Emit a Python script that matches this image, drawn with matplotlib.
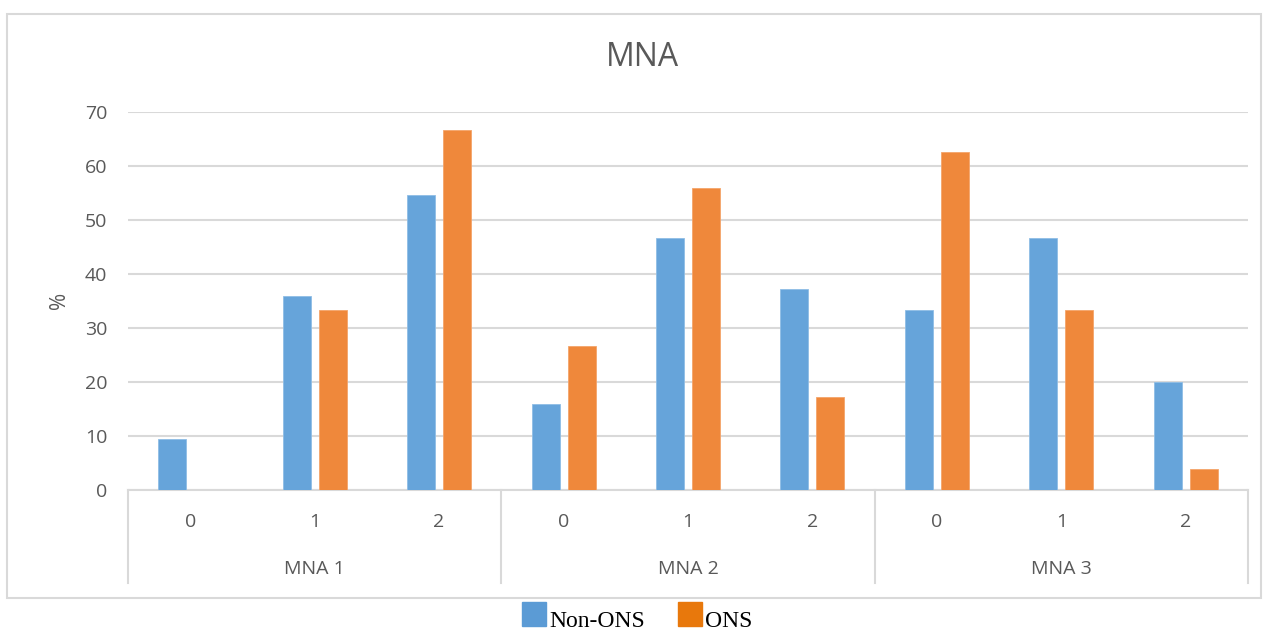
import matplotlib.pyplot as plt
from matplotlib.patches import Rectangle
from matplotlib.lines import Line2D
import numpy as np

groups = ["MNA 1", "MNA 2", "MNA 3"]
levels = ["0", "1", "2"]
non_ons = [9.4, 35.9, 54.6, 15.9, 46.7, 37.2, 33.3, 46.7, 20.0]
ons = [0.0, 33.3, 66.7, 26.7, 55.9, 17.2, 62.6, 33.3, 3.9]
yticks = [0, 10, 20, 30, 40, 50, 60, 70]
series_names = ["Non-ONS", "ONS"]

blue = "#66a4da"
orange = "#ef883b"
grey = "#595959"
grid = "#d9d9d9"
tickfont = "Open Sans"

fig = plt.figure(figsize=(12.68, 6.32), dpi=100)
ax = fig.add_axes([128/1268, 1-490/632, 1120/1268, 378/632])

# outer chart border
fig.patches.append(Rectangle((7/1268, 1-598/632), 1254/1268, 584/632,
                             transform=fig.transFigure, fill=False,
                             edgecolor=grid, linewidth=1.5))

x = np.arange(len(non_ons))
w = 0.225
off = 0.145
ax.bar(x - off, non_ons, w, color=blue, edgecolor="#8fbde6", linewidth=0.6, zorder=3)
ax.bar(x + off, ons, w, color=orange, edgecolor="#f4a46a", linewidth=0.6, zorder=3)

ax.set_xlim(-0.5, len(non_ons) - 0.5)
ax.set_ylim(0, 70)
ax.set_yticks(yticks)
ax.set_yticklabels([str(v) for v in yticks], fontsize=14, color=grey, family=tickfont)
ax.tick_params(axis="y", length=0, pad=15)
ax.set_xticks([])
ax.yaxis.grid(True, color=grid, linewidth=1.5, zorder=0)
for s in ["top", "right", "left"]:
    ax.spines[s].set_visible(False)
ax.spines["bottom"].set_color(grid)
ax.spines["bottom"].set_linewidth(1.5)

fig.text(60/1268, 1-300/632, "%", rotation=90, ha="center", va="center",
         fontsize=15, color=grey, family=tickfont)

trans = ax.get_xaxis_transform()
for i in range(len(non_ons)):
    ax.text(i, -32/378, levels[i % 3], transform=trans, ha="center", va="center",
            fontsize=14, color=grey, family=tickfont)
for g, name in enumerate(groups):
    ax.text(g*3 + 1, -79/378, name, transform=trans, ha="center", va="center",
            fontsize=14, color=grey, family=tickfont)
for b in [-0.5, 2.5, 5.5, 8.5]:
    ax.add_line(Line2D([b, b], [0, -93/378], transform=trans, color=grid,
                       linewidth=1.5, clip_on=False))

fig.text(642/1268, 1-57/632, "MNA", ha="center", va="center",
         fontsize=23, color=grey, family=tickfont)

# legend drawn by hand (text sits low beside the swatch)
leg_colors = ["#5b9bd5", "#e8780c"]
leg_x = [522, 678]
for name, c, lx in zip(series_names, leg_colors, leg_x):
    fig.patches.append(Rectangle((lx/1268, 1-626/632), 24/1268, 24/632,
                                 transform=fig.transFigure, color=c))
    fig.text((lx + 27)/1268, 1-627/632, name, ha="left", va="baseline",
             fontsize=17, color="black", family="Liberation Serif")

fig.savefig("out.png", dpi=100)
